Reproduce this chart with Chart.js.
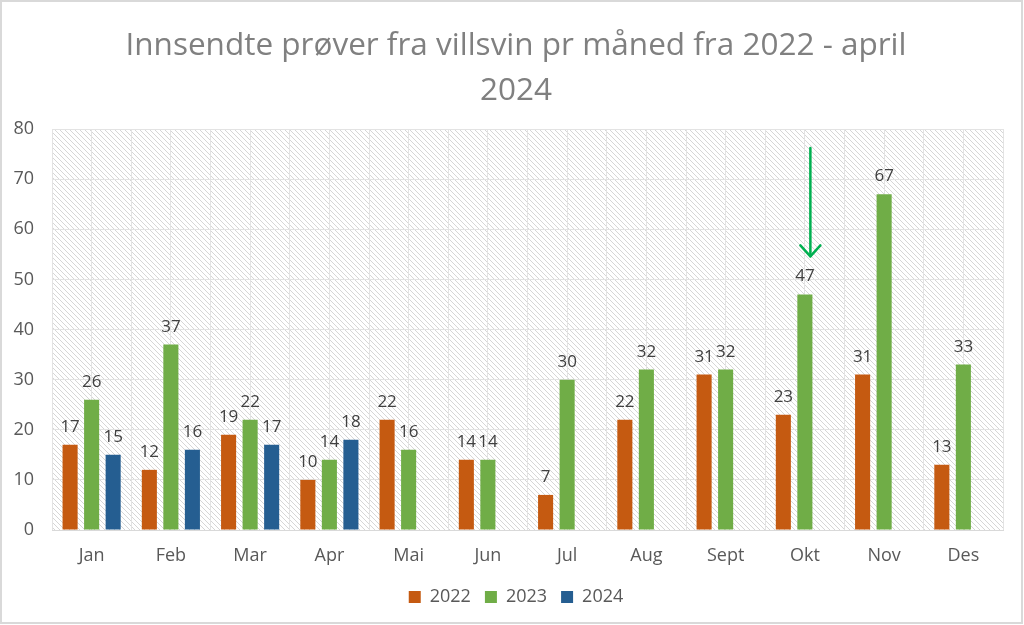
<!DOCTYPE html>
<html><head><meta charset="utf-8">
<script src="https://cdn.jsdelivr.net/npm/chart.js@4.4.1/dist/chart.umd.min.js"></script>
<style>html,body{margin:0;padding:0;background:#fff}#wrap{width:1024px;height:625px;position:relative}</style>
</head><body><div id="wrap"><canvas id="c"></canvas></div>
<script>
const months = ['Jan','Feb','Mar','Apr','Mai','Jun','Jul','Aug','Sept','Okt','Nov','Des'];
const seriesNames = ['2022','2023','2024'];
const v2022 = [17,12,19,10,22,14,7,22,31,23,31,13];
const v2023 = [26,37,22,14,16,14,30,32,32,47,67,33];
const v2024 = [15,16,17,18,null,null,null,null,null,null,null,null];
const yMin = 0, yMax = 80, yStep = 10;
const titleLines = ['Innsendte prøver fra villsvin pr måned fra 2022 - april','2024'];
const arrowMonth = 'Okt';
const arrowFrom = 76.2, arrowTo = 54.6;

const FONT = '"Open Sans"';
const colors = ['#C55A11','#70AD47','#255E91'];

function makePattern(){
  const s = 5;
  const p = document.createElement('canvas');
  p.width = s; p.height = s;
  const g = p.getContext('2d');
  g.fillStyle = '#ffffff'; g.fillRect(0,0,s,s);
  g.strokeStyle = '#d6d6d6'; g.lineWidth = 1;
  g.beginPath();
  g.moveTo(-1,-1); g.lineTo(s+1,s+1);
  g.moveTo(-1,s-1); g.lineTo(1,s+1);
  g.moveTo(s-1,-1); g.lineTo(s+1,1);
  g.stroke();
  return p;
}

const bgPlugin = {
  id:'bg',
  beforeDraw(chart){
    const {ctx, chartArea:a, width, height} = chart;
    ctx.save();
    ctx.fillStyle = '#fff'; ctx.fillRect(0,0,width,height);
    ctx.strokeStyle = '#d9d9d9'; ctx.lineWidth = 2;
    ctx.strokeRect(1,1,width-3,height-3);
    ctx.fillStyle = ctx.createPattern(makePattern(),'repeat');
    ctx.fillRect(a.left,a.top,a.right-a.left,a.bottom-a.top);
    ctx.restore();
  }
};

const labelPlugin = {
  id:'vals',
  afterDatasetsDraw(chart){
    const ctx = chart.ctx;
    ctx.save();
    ctx.font = '17px ' + FONT;
    ctx.fillStyle = '#404040';
    ctx.textAlign = 'center';
    ctx.textBaseline = 'alphabetic';
    chart.data.datasets.forEach((ds,i)=>{
      const meta = chart.getDatasetMeta(i);
      meta.data.forEach((el,j)=>{
        const v = ds.data[j];
        if(v===null||v===undefined) return;
        ctx.fillText(String(v), el.x, el.y - 13);
      });
    });
    ctx.restore();
  }
};

const arrowPlugin = {
  id:'arrow',
  afterDatasetsDraw(chart){
    const ctx = chart.ctx;
    const x = chart.scales.x.getPixelForValue(months.indexOf(arrowMonth)) + 5.5;
    const y1 = chart.scales.y.getPixelForValue(arrowFrom);
    const y2 = chart.scales.y.getPixelForValue(arrowTo);
    ctx.save();
    ctx.strokeStyle = '#00B050'; ctx.lineWidth = 2.5; ctx.lineCap = 'round'; ctx.lineJoin='round';
    ctx.beginPath(); ctx.moveTo(x,y1); ctx.lineTo(x,y2); ctx.stroke();
    ctx.beginPath(); ctx.moveTo(x-10,y2-11); ctx.lineTo(x,y2); ctx.lineTo(x+10,y2-11); ctx.stroke();
    ctx.restore();
  }
};

const seriesData = [v2022, v2023, v2024];
new Chart(document.getElementById('c'), {
  type:'bar',
  data:{
    labels: months,
    datasets: seriesNames.map((n,i)=>({
      label:n, data:seriesData[i], backgroundColor:colors[i],
      categoryPercentage:0.815, barPercentage:0.7
    }))
  },
  options:{
    responsive:true, maintainAspectRatio:false, animation:false,
    layout:{padding:{top:0,left:8,right:0,bottom:9}},
    plugins:{
      title:{display:true, text:titleLines, color:'#808080',
        font:{family:'Open Sans',size:31.5,weight:'normal',lineHeight:1.4286}, padding:{top:23.5,bottom:15.5}},
      legend:{position:'bottom', labels:{color:'#595959', font:{family:'Open Sans',size:18}, boxWidth:12, boxHeight:12, padding:14}},
      tooltip:{enabled:false}
    },
    scales:{
      x:{
        grid:{color:'#e3e3e3', offset:true, drawTicks:false},
        border:{color:'#d9d9d9'},
        ticks:{color:'#595959', font:{family:'Open Sans',size:18}, padding:15},
        afterFit(s){ s.height = 44; }
      },
      x2:{
        type:'category', labels:months, offset:true, position:'bottom',
        grid:{color:'#e3e3e3', offset:false, drawTicks:false},
        border:{display:false},
        ticks:{display:false},
        afterFit(s){ s.height = 0; }
      },
      y:{
        min:yMin, max:yMax,
        grid:{color:'#e3e3e3', drawTicks:false},
        border:{display:false},
        ticks:{stepSize:yStep, color:'#595959', font:{family:'Open Sans',size:18}, padding:18},
        afterFit(s){ s.width = 44; }
      },
      yR:{
        type:'linear', position:'right', min:yMin, max:yMax,
        grid:{display:false}, border:{display:false}, ticks:{display:false},
        afterFit(s){ s.width = 21; }
      }
    }
  },
  plugins:[bgPlugin,labelPlugin,arrowPlugin]
});
</script></body></html>
